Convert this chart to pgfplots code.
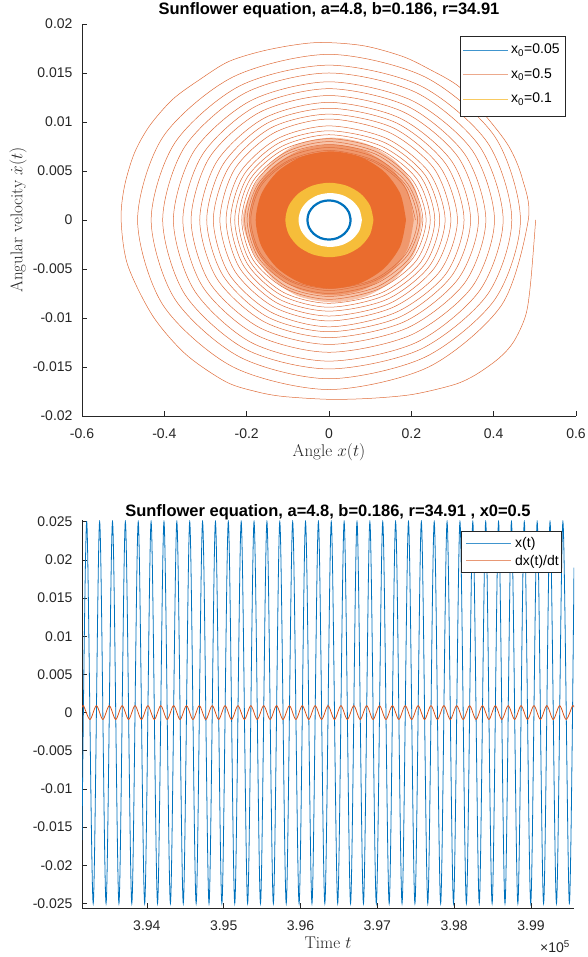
\documentclass[border=0pt]{standalone}
\usepackage{pgfplots}
\pgfplotsset{compat=1.18}
\usepackage{fontspec}
\newfontfamily\arial{Liberation Sans}
\definecolor{mblue}{RGB}{0,114,189}
\definecolor{morange}{RGB}{217,83,25}
\definecolor{mfill}{RGB}{234,108,46}
\definecolor{myellow}{RGB}{246,189,58}
\definecolor{axgray}{RGB}{38,38,38}
\pgfplotsset{
 every axis title shift=0pt,
 mstyle/.style={
  scale only axis,
  axis x line*=bottom, axis y line*=left,
  axis line style={axgray,-,line width=0.5pt},
  every tick/.style={axgray,line width=0.5pt},
  tick align=inside,
  major tick length=5pt,
  tick label style={font=\arial\fontsize{14}{16}\selectfont, text=axgray},
  xticklabel style={yshift=-9pt},
  yticklabel style={xshift=-6pt},
  scaled ticks=false,
  label style={font=\fontsize{17}{19}\selectfont, text=axgray},
 },
}
\tikzset{lgtext/.style={anchor=base west, inner sep=0pt, font=\arial\fontsize{14}{16}\selectfont, text=black}}
\begin{document}
\begin{tikzpicture}
\path[use as bounding box] (0,0) rectangle (587pt,957pt);
% ---------------- top axis ----------------
\begin{axis}[mstyle, at={(82pt,541pt)}, anchor=south west, width=494pt, height=392pt,
 xmin=-0.6, xmax=0.6, ymin=-0.02, ymax=0.02,
 xtick={-0.6,-0.4,-0.2,0,0.2,0.4,0.6}, xticklabels={-0.6,-0.4,-0.2,0,0.2,0.4,0.6},
 ytick={-0.02,-0.015,-0.01,-0.005,0,0.005,0.01,0.015,0.02},
 yticklabels={-0.02,-0.015,-0.01,-0.005,0,0.005,0.01,0.015,0.02},
 title={Sunflower equation, a=4.8, b=0.186, r=34.91},
 title style={at={(axis description cs:0.5,1.0357)}, anchor=center, font=\arial\bfseries\fontsize{16.5}{18}\selectfont},
 xlabel={Angle $x(t)$}, xlabel style={at={(axis description cs:0.5,-0.0918)}, anchor=center},
 ylabel={Angular velocity $\dot{x}(t)$}, ylabel style={at={(axis description cs:-0.1296,0.5)}, anchor=center},
]
% outer fading part of the dense region of x0=0.5
\addplot[fill=mfill!40, draw=none, smooth] coordinates {
(0.226,0) (0.2094,0.00321) (0.1621,0.00594) (0.0915,0.00776) (0.008,0.0084) (-0.0755,0.00776) (-0.1381,0.00594) (-0.1854,0.00321)
(-0.210,0) (-0.1854,-0.00321) (-0.1381,-0.00594) (-0.0755,-0.00776) (0.008,-0.0084) (0.0915,-0.00776) (0.1621,-0.00594) (0.2094,-0.00321) (0.226,0)
};
\addplot[fill=mfill!70, draw=none, smooth] coordinates {
(0.206,0) (0.1908,0.00295) (0.1474,0.00544) (0.0826,0.00711) (0.006,0.0077) (-0.0706,0.00711) (-0.1354,0.00544) (-0.1788,0.00295)
(-0.194,0) (-0.1788,-0.00295) (-0.1354,-0.00544) (-0.0706,-0.00711) (0.006,-0.0077) (0.0826,-0.00711) (0.1474,-0.00544) (0.1908,-0.00295) (0.206,0)
};
% spiral x0=0.5
\addplot[morange!85, line width=0.5pt, smooth] coordinates {
(0.502,0) (0.490,-0.0063) (0.478,-0.0097) (0.449,-0.0124) (0.413,-0.0141) (0.356,-0.0158) (0.304,-0.0168) (0.203,-0.0178) (0.1,-0.0182) (0,-0.0183)
(-0.113,-0.0180) (-0.178,-0.0175) (-0.251,-0.0165) (-0.348,-0.0137) (-0.428,-0.0098) (-0.489,-0.0046) (-0.505,0)
(-0.497,0.0034) (-0.473,0.0068) (-0.436,0.0096) (-0.380,0.0123) (-0.315,0.0143) (-0.242,0.0162) (-0.145,0.0174) (-0.032,0.0181)
(0.081,0.0178) (0.178,0.0167) (0.243,0.0154) (0.316,0.0136) (0.381,0.0106) (0.437,0.0075) (0.469,0.0043) (0.484,0)
(0.419,-0.0087) (0.242,-0.0150) (0,-0.0173) (-0.233,-0.0150) (-0.403,-0.0087) (-0.465,0) (-0.403,0.0085) (-0.233,0.0146) (0,0.0169) (0.233,0.0146) (0.403,0.0085)
(0.465,0) (0.403,-0.0081) (0.233,-0.0140) (0,-0.0162) (-0.216,-0.0140) (-0.374,-0.0081) (-0.432,0) (-0.374,0.0079) (-0.216,0.0137) (0,0.0158) (0.222,0.0137) (0.385,0.0079)
(0.444,0) (0.385,-0.0076) (0.222,-0.0132) (0,-0.0152) (-0.202,-0.0132) (-0.350,-0.0076) (-0.404,0) (-0.350,0.0075) (-0.202,0.0130) (0,0.0150) (0.212,0.0130) (0.366,0.0075)
(0.423,0) (0.366,-0.0072) (0.212,-0.0125) (0,-0.0144) (-0.189,-0.0125) (-0.327,-0.0072) (-0.378,0) (-0.327,0.0071) (-0.189,0.0122) (0,0.0141) (0.201,0.0122) (0.348,0.0071)
(0.402,0) (0.348,-0.0068) (0.201,-0.0117) (0,-0.0135) (-0.178,-0.0117) (-0.307,-0.0068) (-0.355,0) (-0.307,0.0067) (-0.178,0.0116) (0,0.0134) (0.191,0.0116) (0.330,0.0067)
(0.381,0) (0.330,-0.0064) (0.191,-0.0110) (0,-0.0127) (-0.168,-0.0110) (-0.290,-0.0064) (-0.335,0) (-0.290,0.0064) (-0.168,0.0110) (0,0.0127) (0.182,0.0110) (0.314,0.0064)
(0.363,0) (0.314,-0.0060) (0.182,-0.0104) (0,-0.0120) (-0.157,-0.0104) (-0.272,-0.0060) (-0.314,0) (-0.272,0.0060) (-0.157,0.0104) (0,0.0120) (0.172,0.0104) (0.298,0.0060)
(0.344,0) (0.298,-0.0057) (0.172,-0.0099) (0,-0.0114) (-0.149,-0.0099) (-0.257,-0.0057) (-0.297,0) (-0.257,0.0057) (-0.149,0.0099) (0,0.0114) (0.164,0.0099) (0.284,0.0057)
(0.328,0) (0.284,-0.0055) (0.164,-0.0094) (0,-0.0109) (-0.141,-0.0094) (-0.243,-0.0055) (-0.281,0) (-0.243,0.0054) (-0.141,0.0094) (0,0.0108) (0.156,0.0094) (0.270,0.0054)
(0.312,0) (0.270,-0.0052) (0.156,-0.0089) (0,-0.0103) (-0.133,-0.0089) (-0.229,-0.0052) (-0.265,0) (-0.229,0.0052) (-0.133,0.0089) (0,0.0103) (0.148,0.0089) (0.256,0.0052)
(0.296,0) (0.256,-0.0049) (0.148,-0.0085) (0,-0.0098) (-0.125,-0.0085) (-0.217,-0.0049) (-0.250,0) (-0.217,0.0048) (-0.125,0.0083) (0,0.0096) (0.141,0.0083) (0.244,0.0048)
(0.282,0) (0.244,-0.0047) (0.141,-0.0081) (0,-0.0093) (-0.120,-0.0081) (-0.207,-0.0047) (-0.239,0) (-0.207,0.0046) (-0.120,0.0079) (0,0.0091) (0.135,0.0079) (0.233,0.0046)
(0.269,0) (0.233,-0.0045) (0.135,-0.0077) (0,-0.0089) (-0.115,-0.0077) (-0.198,-0.0045) (-0.229,0) (-0.198,0.0044) (-0.115,0.0075) (0,0.0087) (0.129,0.0075) (0.223,0.0044)
(0.257,0) (0.223,-0.0043) (0.129,-0.0074) (0,-0.0085) (-0.110,-0.0074) (-0.191,-0.0043) (-0.220,0) (-0.191,0.0042) (-0.110,0.0072) (0,0.0083) (0.123,0.0072) (0.213,0.0042)
(0.246,0) (0.213,-0.0041) (0.123,-0.0070) (0,-0.0081) (-0.106,-0.0070) (-0.184,-0.0041) (-0.212,0) (-0.184,0.0040) (-0.106,0.0069) (0,0.0080) (0.118,0.0069) (0.204,0.0040)
(0.236,0) (0.204,-0.0039) (0.118,-0.0068) (0,-0.0078) (-0.103,-0.0068) (-0.178,-0.0039) (-0.205,0) (-0.178,0.0039) (-0.103,0.0067) (0,0.0077) (0.114,0.0067) (0.197,0.0039)
(0.228,0) (0.197,-0.0038) (0.114,-0.0065) (0,-0.0075) (-0.100,-0.0065) (-0.172,-0.0038) (-0.199,0) (-0.172,0.0037) (-0.100,0.0064) (0,0.0074) (0.111,0.0064) (0.191,0.0037)
(0.221,0) (0.191,-0.0036) (0.111,-0.0062) (0,-0.0072) (-0.097,-0.0062) (-0.168,-0.0036) (-0.194,0) (-0.168,0.0036) (-0.097,0.0061) (0,0.0071) (0.108,0.0061) (0.186,0.0036)
(0.215,0) (0.186,-0.0035) (0.108,-0.0061) (0,-0.0070) (-0.095,-0.0061) (-0.165,-0.0035) (-0.190,0) (-0.165,0.0035) (-0.095,0.0060) (0,0.0069) (0.105,0.0060) (0.182,0.0035)
(0.210,0)
};
% dense core of the x0=0.5 trajectory
\addplot[fill=mfill, draw=none, smooth] coordinates {
(0.187,0) (0.1731,0.00268) (0.1335,0.00495) (0.0744,0.00647) (0.0045,0.0070) (-0.0654,0.00647) (-0.1245,0.00495) (-0.1641,0.00268)
(-0.178,0) (-0.1641,-0.00268) (-0.1245,-0.00495) (-0.0654,-0.00647) (0.0045,-0.0070) (0.0744,-0.00647) (0.1335,-0.00495) (0.1731,-0.00268) (0.187,0)
};
% x0=0.1 ring
\addplot[fill=myellow, draw=none, smooth] coordinates {
(0.108,0) (0.0999,0.00145) (0.0767,0.00269) (0.0419,0.00351) (0.001,0.0038) (-0.0399,0.00351) (-0.0747,0.00269) (-0.0979,0.00145)
(-0.106,0) (-0.0979,-0.00145) (-0.0747,-0.00269) (-0.0399,-0.00351) (0.001,-0.0038) (0.0419,-0.00351) (0.0767,-0.00269) (0.0999,-0.00145) (0.108,0)
};
\addplot[fill=white, draw=none, smooth] coordinates {
(0.080,0) (0.0741,0.00105) (0.0574,0.00194) (0.0325,0.00254) (0.003,0.00275) (-0.0265,0.00254) (-0.0514,0.00194) (-0.0681,0.00105)
(-0.074,0) (-0.0681,-0.00105) (-0.0514,-0.00194) (-0.0265,-0.00254) (0.003,-0.00275) (0.0325,-0.00254) (0.0574,-0.00194) (0.0741,-0.00105) (0.080,0)
};
% x0=0.05
\addplot[mblue, line width=2.2pt, smooth] coordinates {
(0.0525,0) (0.0485,0.00077) (0.0371,0.00141) (0.0201,0.00185) (0,0.0020) (-0.0201,0.00185) (-0.0371,0.00141) (-0.0485,0.00077)
(-0.0525,0) (-0.0485,-0.00077) (-0.0371,-0.00141) (-0.0201,-0.00185) (0,-0.0020) (0.0201,-0.00185) (0.0371,-0.00141) (0.0485,-0.00077) (0.0525,0) (0.0485,0.00077)
};
\end{axis}
% legend of the top axis
\draw[axgray, line width=0.5pt, fill=white] (460pt,841pt) rectangle (565pt,920.3pt);
\draw[mblue!75, line width=0.6pt] (463pt,907pt) -- (508pt,907pt);
\draw[morange!50, line width=1.3pt] (463pt,882.7pt) -- (508pt,882.7pt);
\draw[myellow!80, line width=0.6pt] (463pt,858pt) -- (508pt,858pt);
\node[lgtext] at (511pt,903pt) {x\textsubscript{0}=0.05};
\node[lgtext] at (511pt,878.7pt) {x\textsubscript{0}=0.5};
\node[lgtext] at (511pt,854pt) {x\textsubscript{0}=0.1};
% ---------------- bottom axis ----------------
\begin{axis}[mstyle, at={(82pt,49pt)}, anchor=south west, width=492pt, height=387.8pt,
 xmin=393156, xmax=399560, ymin=-0.0256, ymax=0.0252,
 xtick={394000,395000,396000,397000,398000,399000}, xticklabels={3.94,3.95,3.96,3.97,3.98,3.99},
 ytick={-0.025,-0.02,-0.015,-0.01,-0.005,0,0.005,0.01,0.015,0.02,0.025},
 yticklabels={-0.025,-0.02,-0.015,-0.01,-0.005,0,0.005,0.01,0.015,0.02,0.025},
 title={Sunflower equation, a=4.8, b=0.186, r=34.91 , x0=0.5},
 title style={at={(axis description cs:0.5,1.0211)}, anchor=center, font=\arial\bfseries\fontsize{16.5}{18}\selectfont},
 xlabel={Time $t$}, xlabel style={at={(axis description cs:0.5,-0.0903)}, anchor=center},
]
\addplot[mblue, line width=0.8pt, smooth] coordinates {
(393156,-0.0167)
(393218.00,0.025) (393301.75,-0.025) (393385.50,0.025) (393469.25,-0.025) (393553.00,0.025) (393636.75,-0.025) (393720.50,0.025) (393804.25,-0.025)
(393888.00,0.025) (393971.75,-0.025) (394055.50,0.025) (394139.25,-0.025) (394223.00,0.025) (394306.75,-0.025) (394390.50,0.025) (394474.25,-0.025)
(394558.00,0.025) (394641.75,-0.025) (394725.50,0.025) (394809.25,-0.025) (394893.00,0.025) (394976.75,-0.025) (395060.50,0.025) (395144.25,-0.025)
(395228.00,0.025) (395311.75,-0.025) (395395.50,0.025) (395479.25,-0.025) (395563.00,0.025) (395646.75,-0.025) (395730.50,0.025) (395814.25,-0.025)
(395898.00,0.025) (395981.75,-0.025) (396065.50,0.025) (396149.25,-0.025) (396233.00,0.025) (396316.75,-0.025) (396400.50,0.025) (396484.25,-0.025)
(396568.00,0.025) (396651.75,-0.025) (396735.50,0.025) (396819.25,-0.025) (396903.00,0.025) (396986.75,-0.025) (397070.50,0.025) (397154.25,-0.025)
(397238.00,0.025) (397321.75,-0.025) (397405.50,0.025) (397489.25,-0.025) (397573.00,0.025) (397656.75,-0.025) (397740.50,0.025) (397824.25,-0.025)
(397908.00,0.025) (397991.75,-0.025) (398075.50,0.025) (398159.25,-0.025) (398243.00,0.025) (398326.75,-0.025) (398410.50,0.025) (398494.25,-0.025)
(398578.00,0.025) (398661.75,-0.025) (398745.50,0.025) (398829.25,-0.025) (398913.00,0.025) (398996.75,-0.025) (399080.50,0.025) (399164.25,-0.025)
(399248.00,0.025) (399331.75,-0.025) (399415.50,0.025) (399499.25,-0.025) (399560,0.019)
};
\addplot[morange, line width=0.8pt, smooth] coordinates {
(393156,0.00066)
(393176.13,0.0009) (393259.88,-0.0009) (393343.63,0.0009) (393427.38,-0.0009) (393511.13,0.0009) (393594.88,-0.0009) (393678.63,0.0009) (393762.38,-0.0009)
(393846.13,0.0009) (393929.88,-0.0009) (394013.63,0.0009) (394097.38,-0.0009) (394181.13,0.0009) (394264.88,-0.0009) (394348.63,0.0009) (394432.38,-0.0009)
(394516.13,0.0009) (394599.88,-0.0009) (394683.63,0.0009) (394767.38,-0.0009) (394851.13,0.0009) (394934.88,-0.0009) (395018.63,0.0009) (395102.38,-0.0009)
(395186.13,0.0009) (395269.88,-0.0009) (395353.63,0.0009) (395437.38,-0.0009) (395521.13,0.0009) (395604.88,-0.0009) (395688.63,0.0009) (395772.38,-0.0009)
(395856.13,0.0009) (395939.88,-0.0009) (396023.63,0.0009) (396107.38,-0.0009) (396191.13,0.0009) (396274.88,-0.0009) (396358.63,0.0009) (396442.38,-0.0009)
(396526.13,0.0009) (396609.88,-0.0009) (396693.63,0.0009) (396777.38,-0.0009) (396861.13,0.0009) (396944.88,-0.0009) (397028.63,0.0009) (397112.38,-0.0009)
(397196.13,0.0009) (397279.88,-0.0009) (397363.63,0.0009) (397447.38,-0.0009) (397531.13,0.0009) (397614.88,-0.0009) (397698.63,0.0009) (397782.38,-0.0009)
(397866.13,0.0009) (397949.88,-0.0009) (398033.63,0.0009) (398117.38,-0.0009) (398201.13,0.0009) (398284.88,-0.0009) (398368.63,0.0009) (398452.38,-0.0009)
(398536.13,0.0009) (398619.88,-0.0009) (398703.63,0.0009) (398787.38,-0.0009) (398871.13,0.0009) (398954.88,-0.0009) (399038.63,0.0009) (399122.38,-0.0009)
(399206.13,0.0009) (399289.88,-0.0009) (399373.63,0.0009) (399457.38,-0.0009) (399541.13,0.0009) (399560,0.00068)
};
\end{axis}
% legend of the bottom axis
\draw[axgray, line width=0.5pt, fill=white] (461.7pt,384.3pt) rectangle (561.7pt,425.3pt);
\draw[mblue!75, line width=0.6pt] (466pt,413.7pt) -- (510.7pt,413.7pt);
\draw[morange!60, line width=1pt] (466pt,396pt) -- (510.7pt,396pt);
\node[lgtext] at (515pt,409.2pt) {x(t)};
\node[lgtext] at (515pt,391.5pt) {dx(t)/dt};
\node[font=\arial\fontsize{14}{16}\selectfont, text=axgray] at (555pt,10pt) {×10\textsuperscript{5}};
\end{tikzpicture}
\end{document}
